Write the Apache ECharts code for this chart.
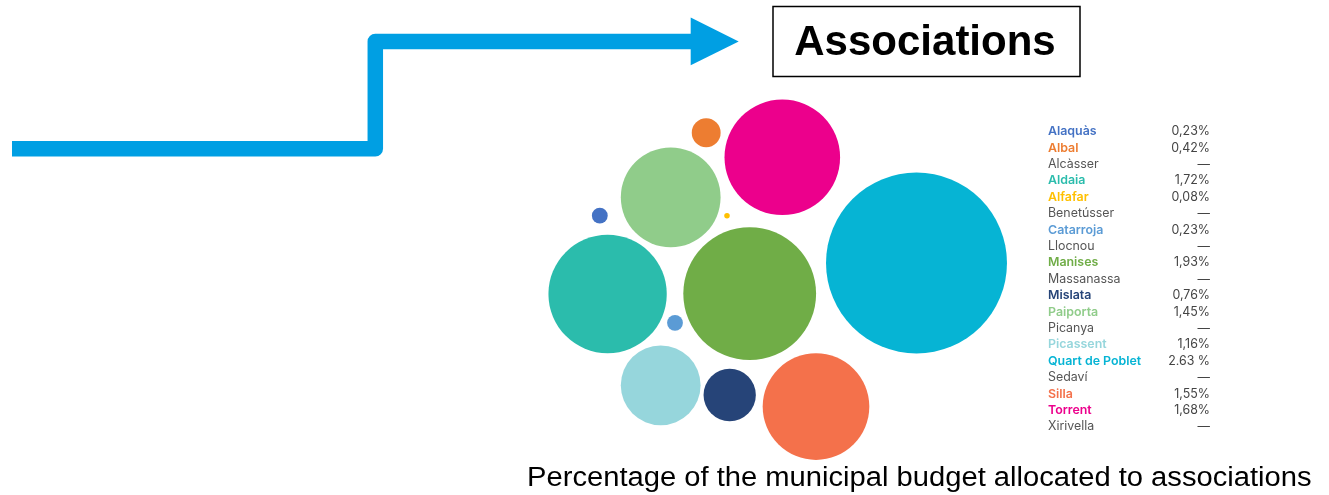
<!DOCTYPE html>
<html>
<head>
<meta charset="utf-8">
<script src="https://cdn.jsdelivr.net/npm/echarts@6/dist/echarts.min.js"></script>
<style>
html,body{margin:0;padding:0;background:#fff;}
#chart{width:1329px;height:495px;}
</style>
</head>
<body>
<div id="chart"></div>
<script>
// ---- data ----
const municipalities = ['Alaquàs','Albal','Alcàsser','Aldaia','Alfafar','Benetússer','Catarroja','Llocnou','Manises','Massanassa','Mislata','Paiporta','Picanya','Picassent','Quart de Poblet','Sedaví','Silla','Torrent','Xirivella'];
const budgetShare = [0.23,0.42,null,1.72,0.08,null,0.23,null,1.93,null,0.76,1.45,null,1.16,2.63,null,1.55,1.68,null];
const shareLabels = ['0,23%','0,42%','—','1,72%','0,08%','—','0,23%','—','1,93%','—','0,76%','1,45%','—','1,16%','2.63 %','—','1,55%','1,68%','—'];
const titleText = 'Associations';
const captionText = 'Percentage of the municipal budget allocated to associations';

// ---- styles / layout (kept apart from the data) ----
const colors = {
  'Alaquàs':'#4472C4','Albal':'#ED7D31','Aldaia':'#2BBCAC','Alfafar':'#FFC000',
  'Catarroja':'#5B9BD5','Manises':'#70AD47','Mislata':'#264478','Paiporta':'#90CC8A',
  'Picassent':'#96D6DC','Quart de Poblet':'#06B4D4','Silla':'#F4714B','Torrent':'#EC008C'
};
// packed-bubble layout: centre of each bubble in the hidden axes' units
const bubbleLayout = {
  'Alaquàs':[599.8,215.7],'Albal':[706.2,132.8],'Aldaia':[607.6,294],'Alfafar':[727,215.7],
  'Catarroja':[675,322.8],'Manises':[749.7,293.7],'Mislata':[729.7,395],'Paiporta':[670.7,197.3],
  'Picassent':[660.7,385.3],'Quart de Poblet':[916.5,263],'Silla':[816,406.6],'Torrent':[782.3,157.3]
};
const pxPerPoint = 68.8; // bubble diameter per percentage point
const FONT = 'Inter, "Noto Sans", sans-serif';

const bubbleData = [];
municipalities.forEach((m,i)=>{
  if (budgetShare[i] == null) return;
  const p = bubbleLayout[m];
  bubbleData.push({name:m, value:[p[0],p[1],budgetShare[i]], itemStyle:{color:colors[m]}});
});

// ---- legend table ----
const graphics = [];
const rowTop = 131.6, rowStep = 16.39;
municipalities.forEach((m,i)=>{
  const y = rowTop + i*rowStep;
  const c = colors[m];
  graphics.push({type:'text', x:1048, y:y, style:{text:m, fill:c||'#555', font:(c?'600 ':'400 ')+'12.4px '+FONT, textAlign:'left', textVerticalAlign:'middle'}});
  graphics.push({type:'text', x:1210, y:y, style:{text:shareLabels[i], fill:'#444', font:'400 12.4px '+FONT, textAlign:'right', textVerticalAlign:'middle'}});
});

// arrow
graphics.push({type:'polyline', shape:{points:[[12,148.8],[375.3,148.8],[375.3,41.5],[692,41.5]]}, style:{stroke:'#009FE3', lineWidth:15.5, fill:null, lineJoin:'round', lineCap:'butt'}});
graphics.push({type:'polygon', shape:{points:[[690.7,17.5],[738.7,41.4],[690.7,65.3]]}, style:{fill:'#009FE3'}});
// title box
graphics.push({type:'rect', shape:{x:773,y:6.5,width:307,height:70}, style:{fill:'#fff', stroke:'#000', lineWidth:1.5}});
graphics.push({type:'text', x:925, y:43, style:{text:titleText, fill:'#000', font:'bold 42px "Liberation Sans", Arial, sans-serif', textAlign:'center', textVerticalAlign:'middle'}});
// caption
graphics.push({type:'text', x:527, y:479, scaleX:1.08, style:{text:captionText, fill:'#000', font:'27px "Liberation Sans", Arial, sans-serif', textAlign:'left', textVerticalAlign:'middle'}});

const chart = echarts.init(document.getElementById('chart'), null, {renderer:'canvas'});
chart.setOption({
  animation:false,
  backgroundColor:'#fff',
  grid:{left:0,right:0,top:0,bottom:0},
  xAxis:{type:'value', min:0, max:1329, show:false},
  yAxis:{type:'value', min:0, max:495, inverse:true, show:false},
  series:[{
    type:'scatter',
    data:bubbleData,
    symbol:'circle',
    symbolSize:(v)=>v[2]*pxPerPoint,
    itemStyle:{opacity:1},
    emphasis:{disabled:true}
  }],
  graphic:graphics
});
</script>
</body>
</html>
